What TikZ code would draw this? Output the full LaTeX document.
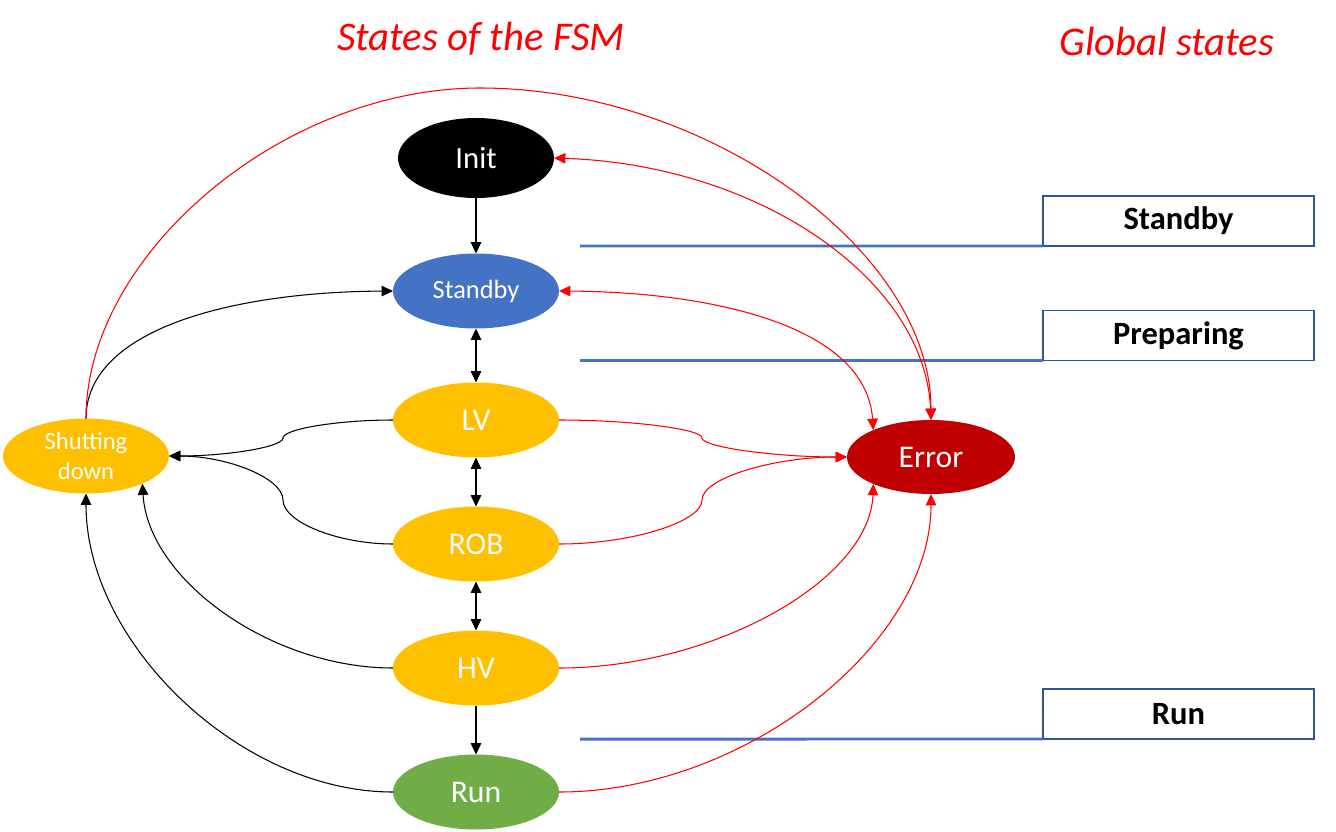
\documentclass[tikz,border=0pt]{standalone}
\usepackage{fontspec}
\setmainfont{Carlito}
\usetikzlibrary{shapes.geometric,arrows.meta}
\definecolor{stbblue}{HTML}{4472C4}
\definecolor{boxblue}{HTML}{2F5597}
\definecolor{stateyellow}{HTML}{FFC000}
\definecolor{rungreen}{HTML}{70AD47}
\definecolor{errred}{HTML}{C00000}
\definecolor{linered}{HTML}{FF0000}
\begin{document}
\begin{tikzpicture}[x=0.02cm,y=-0.02cm,
  state/.style={ellipse, minimum width=3.32cm, minimum height=1.5cm, inner sep=0pt, outer sep=0pt, text=white, font=\fontsize{18}{21}\selectfont},
  yst/.style={state, fill=stateyellow},
  tip/.tip={Triangle[length=6.5pt,width=6pt]},
  conn/.style={line width=0.6pt, -tip},
  dconn/.style={line width=0.6pt, tip-tip},
  rconn/.style={conn, draw=linered},
  rdconn/.style={dconn, draw=linered},
  gbox/.style={rectangle, draw=boxblue, line width=1.1pt, minimum width=5.42cm, minimum height=1cm, inner sep=0pt, outer sep=0pt, font=\fontsize{18.5}{21}\selectfont\bfseries},
  gline/.style={draw=stbblue, line width=1.7pt},
  title/.style={text=linered, font=\fontsize{23.2}{27}\selectfont\itshape, inner sep=0pt}
]
\useasboundingbox (0,0) rectangle (1336,832);

% titles
\node[title, anchor=base] (t1) at (481,50) {States of the FSM};
\node[title, anchor=base] (t2) at (1167,55) {Global states};

% global state boxes
\node[gbox] (gS) at (1178.5,221) {Standby};
\node[gbox] (gP) at (1178.5,335.5) {Preparing};
\node[gbox] (gR) at (1178.5,714) {Run};
\coordinate (lS) at (580,246);
\coordinate (lP) at (580,360.5);
\coordinate (lR) at (580,739);
\draw[gline] (lS) -- (gS.south west);
\draw[gline] (lP) -- (gP.south west);
\draw[gline] (lR) -- (gR.south west);

% states
\node[state, fill=black, minimum width=3.12cm, minimum height=1.6cm, font=\fontsize{17.5}{20}\selectfont] (init) at (476,158) {Init};
\node[state, fill=stbblue, font=\fontsize{15}{18}\selectfont] (stb) at (476,291) {Standby};
\node[yst] (lv) at (476,420) {LV};
\node[yst] (rob) at (476,544) {ROB};
\node[yst] (hv) at (476,668) {HV};
\node[state, fill=rungreen] (run) at (476,792) {Run};
\node[yst, align=center, font=\fontsize{14}{17}\selectfont] (sd) at (86,456) {Shutting\\down};
\node[state, fill=errred, minimum width=3.36cm, minimum height=1.48cm] (err) at (931,457) {Error};

% black vertical connectors
\draw[conn] (init) -- (stb);
\draw[dconn] (stb) -- (lv);
\draw[dconn] (lv) -- (rob);
\draw[dconn] (rob) -- (hv);
\draw[conn] (hv) -- (run);

% black connectors to/from shutting down
\draw[conn] (sd.north) .. controls (86,330) and (230,292) .. (stb.west);
\draw[conn] (lv.west) .. controls (338,420) and (283,429) .. (283,438) .. controls (283,447) and (227,456) .. (sd.east);
\draw[conn] (rob.west) .. controls (338,544) and (283,522) .. (283,500) .. controls (283,478) and (227,456) .. (sd.east);
\draw[conn] (hv.west) .. controls (270,668) and (148,579) .. (sd.-26);
\draw[conn] (run.west) .. controls (240,792) and (86,643) .. (sd.south);

% red connectors to error
\draw[rconn] (sd.north) .. controls (86,254) and (283,88) .. (480,88) .. controls (706,88) and (931,250) .. (err.north);
\draw[rdconn] (init.east) .. controls (760,165) and (925,280) .. (err.north);
\draw[rdconn] (stb.east) .. controls (710,292) and (866,325) .. (err.155);
\draw[rconn] (lv.east) .. controls (631,420) and (702,429) .. (702,438) .. controls (702,447) and (774,457) .. (err.west);
\draw[rconn] (rob.east) .. controls (631,544) and (702,522) .. (702,500) .. controls (702,478) and (774,457) .. (err.west);
\draw[rconn] (hv.east) .. controls (714,668) and (870,580) .. (err.205);
\draw[rconn] (run.east) .. controls (745,792) and (931,644) .. (err.south);
\end{tikzpicture}
\end{document}
